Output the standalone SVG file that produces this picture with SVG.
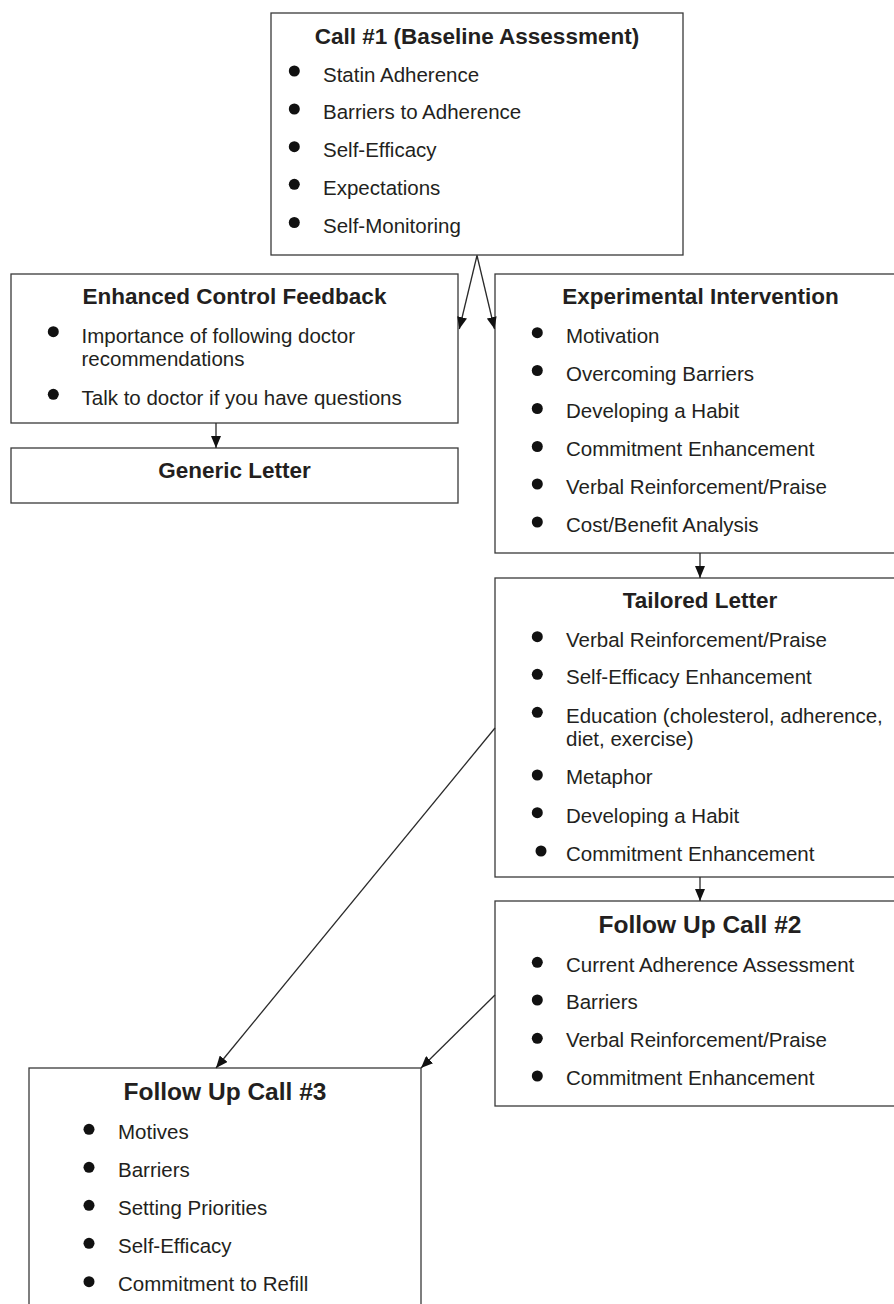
<svg xmlns="http://www.w3.org/2000/svg" width="894" height="1304" viewBox="0 0 894 1304">
<style>
.box{fill:#fff;stroke:#3a3a3a;stroke-width:1.3}
.t{font-family:"Liberation Sans",Arial,sans-serif;font-weight:bold;font-size:22.5px;fill:#231f20;text-anchor:middle}
.t2{font-family:"Liberation Sans",Arial,sans-serif;font-weight:bold;font-size:24.5px;fill:#231f20;text-anchor:middle}
.i{font-family:"Liberation Sans",Arial,sans-serif;font-size:20.5px;fill:#231f20}
.b{fill:#111}
.c{stroke:#2a2a2a;stroke-width:1.3;fill:none;marker-end:url(#ah)}
</style>
<defs>
<marker id="ah" viewBox="0 0 12 10" refX="12" refY="5" markerWidth="12" markerHeight="10" markerUnits="userSpaceOnUse" orient="auto">
<path d="M0,0 L12,5 L0,10 z" fill="#111"/>
</marker>
</defs>
<rect width="894" height="1304" fill="#fff"/>

<g id="call1">
<rect class="box" x="271" y="13" width="412" height="242"/>
<text class="t" x="477" y="43.5">Call #1 (Baseline Assessment)</text>
<circle class="b" cx="294.3" cy="71" r="5.5"/><text class="i" x="323" y="81.5">Statin Adherence</text>
<circle class="b" cx="294.3" cy="109" r="5.5"/><text class="i" x="323" y="119.3">Barriers to Adherence</text>
<circle class="b" cx="294.3" cy="146.7" r="5.5"/><text class="i" x="323" y="157.2">Self-Efficacy</text>
<circle class="b" cx="294.3" cy="184.3" r="5.5"/><text class="i" x="323" y="195">Expectations</text>
<circle class="b" cx="294.3" cy="222.5" r="5.5"/><text class="i" x="323" y="232.8">Self-Monitoring</text>
</g>

<g id="control">
<rect class="box" x="11" y="274" width="447" height="149"/>
<text class="t" x="234.5" y="304.3">Enhanced Control Feedback</text>
<circle class="b" cx="53.3" cy="331.7" r="5.5"/><text class="i" x="81.5" y="342.7">Importance of following doctor</text>
<text class="i" x="81.5" y="366">recommendations</text>
<circle class="b" cx="53.3" cy="394.3" r="5.5"/><text class="i" x="81.5" y="405">Talk to doctor if you have questions</text>
</g>

<g id="generic">
<rect class="box" x="11" y="448" width="447" height="55"/>
<text class="t" x="234.5" y="478">Generic Letter</text>
</g>

<g id="experimental">
<rect class="box" x="495" y="274" width="420" height="279"/>
<text class="t" x="700.5" y="304.3">Experimental Intervention</text>
<circle class="b" cx="537.3" cy="332.7" r="5.5"/><text class="i" x="566" y="342.7">Motivation</text>
<circle class="b" cx="537.3" cy="370.5" r="5.5"/><text class="i" x="566" y="380.5">Overcoming Barriers</text>
<circle class="b" cx="537.3" cy="408.5" r="5.5"/><text class="i" x="566" y="418.3">Developing a Habit</text>
<circle class="b" cx="537.3" cy="446.5" r="5.5"/><text class="i" x="566" y="456.2">Commitment Enhancement</text>
<circle class="b" cx="537.3" cy="484" r="5.5"/><text class="i" x="566" y="494">Verbal Reinforcement/Praise</text>
<circle class="b" cx="537.3" cy="522" r="5.5"/><text class="i" x="566" y="531.8">Cost/Benefit Analysis</text>
</g>

<g id="tailored">
<rect class="box" x="495" y="578" width="420" height="299"/>
<text class="t" x="700" y="608.3">Tailored Letter</text>
<circle class="b" cx="537.3" cy="636.7" r="5.5"/><text class="i" x="566" y="646.7">Verbal Reinforcement/Praise</text>
<circle class="b" cx="537.3" cy="674.3" r="5.5"/><text class="i" x="566" y="684.3">Self-Efficacy Enhancement</text>
<circle class="b" cx="537.3" cy="712.3" r="5.5"/><text class="i" x="566" y="722.5">Education (cholesterol, adherence,</text>
<text class="i" x="566" y="745.7">diet, exercise)</text>
<circle class="b" cx="537.3" cy="775" r="5.5"/><text class="i" x="566" y="784.3">Metaphor</text>
<circle class="b" cx="537.3" cy="812.7" r="5.5"/><text class="i" x="566" y="822.7">Developing a Habit</text>
<circle class="b" cx="541" cy="851" r="5.5"/><text class="i" x="566" y="860.5">Commitment Enhancement</text>
</g>

<g id="followup2">
<rect class="box" x="495" y="901" width="420" height="205"/>
<text class="t2" x="700" y="933.3">Follow Up Call #2</text>
<circle class="b" cx="537.3" cy="962.3" r="5.5"/><text class="i" x="566" y="971.5">Current Adherence Assessment</text>
<circle class="b" cx="537.3" cy="1000" r="5.5"/><text class="i" x="566" y="1009.3">Barriers</text>
<circle class="b" cx="537.3" cy="1038.3" r="5.5"/><text class="i" x="566" y="1047.3">Verbal Reinforcement/Praise</text>
<circle class="b" cx="537.3" cy="1076" r="5.5"/><text class="i" x="566" y="1085">Commitment Enhancement</text>
</g>

<g id="followup3">
<rect class="box" x="29" y="1068" width="392" height="260"/>
<text class="t2" x="225" y="1100">Follow Up Call #3</text>
<circle class="b" cx="89" cy="1129.3" r="5.5"/><text class="i" x="118" y="1139.3">Motives</text>
<circle class="b" cx="89" cy="1167.3" r="5.5"/><text class="i" x="118" y="1177.3">Barriers</text>
<circle class="b" cx="89" cy="1205.3" r="5.5"/><text class="i" x="118" y="1215.3">Setting Priorities</text>
<circle class="b" cx="89" cy="1243.3" r="5.5"/><text class="i" x="118" y="1253.3">Self-Efficacy</text>
<circle class="b" cx="89" cy="1281.7" r="5.5"/><text class="i" x="118" y="1291.3">Commitment to Refill</text>
</g>

<g id="connectors">
<line class="c" x1="477" y1="255.5" x2="459.3" y2="329"/>
<line class="c" x1="477" y1="255.5" x2="494.5" y2="329"/>
<line class="c" x1="216" y1="423" x2="216" y2="448"/>
<line class="c" x1="700" y1="553" x2="700" y2="578"/>
<line class="c" x1="700" y1="877" x2="700" y2="901"/>
<line class="c" x1="495" y1="728" x2="216" y2="1068"/>
<line class="c" x1="495" y1="995" x2="421" y2="1068"/>
</g>
</svg>
